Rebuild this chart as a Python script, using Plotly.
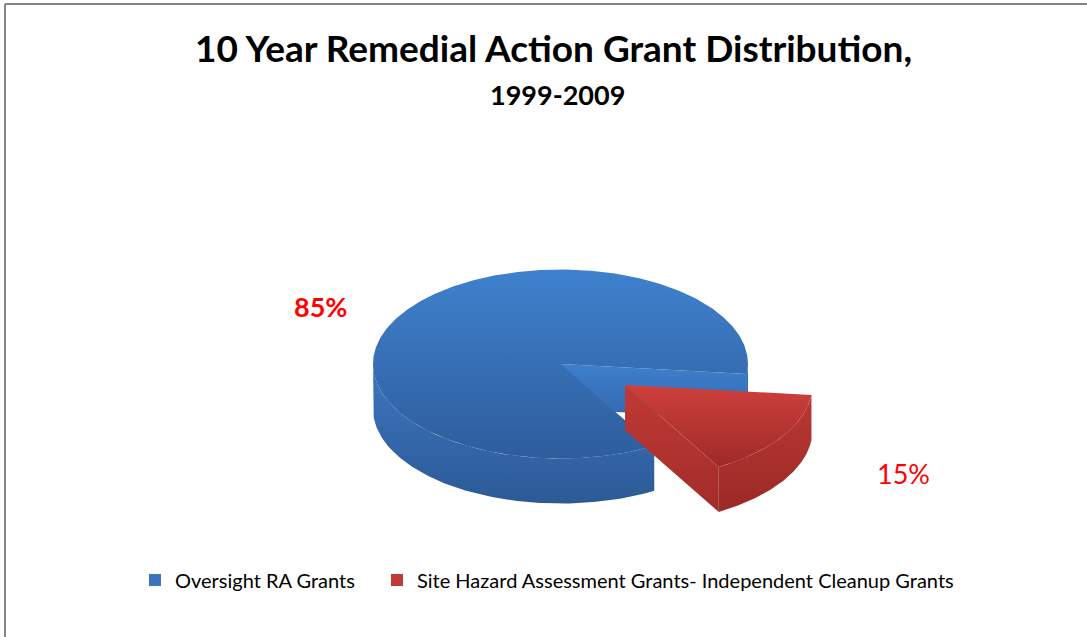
import numpy as np
import plotly.graph_objects as go

# ---- data ----
categories = ["Oversight RA Grants", "Site Hazard Assessment Grants- Independent Cleanup Grants"]
values = [85, 15]
pct_labels = [f"{v}%" for v in values]
title_text = "10 Year Remedial Action Grant Distribution,"
subtitle_text = "1999-2009"

# ---- style / geometry (pixel space) ----
W, H = 1087, 637
cx, cy = 560.5, 364.0      # centre of the top face
ra, rb = 187.5, 94.5       # ellipse semi-axes
depth = 45.0               # thickness of the pie
rotation = 150.0           # first slice angle (deg clockwise from 12 o'clock)
explode = [0.0, 0.41]
top_cols = [("#3F81CE", "#2E5D9C"), ("#CE403C", "#9E2A28")]
side_cols = [("#3B76C0", "#2D5A97"), ("#BC3834", "#9A2926")]
radial_cols = [("#3E7FCD", "#3469AE"), ("#C03A36", "#A22C29")]
legend_cols = ["#3A75BE", "#C03A36"]
label_pos = [(320, 306), (903, 473)]
label_bold = [True, False]
legend_x = [135, 377]
legend_y = 580

fig = go.Figure()


def pt(c, th, dz=0.0):
    t = np.radians(th)
    return c[0] + ra * np.sin(t), c[1] - rb * np.cos(t) + dz


def add_poly(xs, ys, cols):
    # with a reversed y axis, colorscale 0 sits at the bottom of the fill
    fig.add_trace(go.Scatter(
        x=xs, y=ys, mode="lines", fill="toself", line=dict(width=0),
        fillgradient=dict(type="vertical", colorscale=[[0, cols[1]], [1, cols[0]]]),
        hoverinfo="skip", showlegend=False))


total = float(sum(values))
start = rotation
for i, v in enumerate(values):
    span = 360.0 * v / total
    th1, th2 = start, start + span
    start = th2
    mid = np.radians((th1 + th2) / 2)
    c = (cx + explode[i] * ra * np.sin(mid), cy - explode[i] * rb * np.cos(mid))

    # radial faces
    for th, vis in ((th1, np.sin(np.radians(th1)) < 0), (th2, np.sin(np.radians(th2)) > 0)):
        if vis:
            px, py = pt(c, th)
            add_poly([c[0], px, px, c[0]], [c[1], py, py + depth, c[1] + depth], radial_cols[i])

    # outer curved side (front half only)
    for k in range(-1, 2):
        lo = max(th1, 90 + 360 * k)
        hi = min(th2, 270 + 360 * k)
        if hi > lo:
            ang = np.linspace(lo, hi, 120)
            xs = [pt(c, a)[0] for a in ang]
            ys = [pt(c, a)[1] for a in ang]
            add_poly(xs + xs[::-1], ys + [y + depth for y in ys[::-1]], side_cols[i])

    # top face
    ang = np.linspace(th1, th2, max(int(span * 2), 30))
    xs = [c[0]] + [pt(c, a)[0] for a in ang] + [c[0]]
    ys = [c[1]] + [pt(c, a)[1] for a in ang] + [c[1]]
    add_poly(xs, ys, top_cols[i])

# legend entries (one legend per entry so each can be placed)
legend_names = ["legend", "legend2"]
for i, name in enumerate(categories):
    fig.add_trace(go.Scatter(
        x=[None], y=[None], mode="markers", name=name, legend=legend_names[i],
        marker=dict(symbol="square", size=12, color=legend_cols[i]),
        showlegend=True))

# percent labels
for i, txt in enumerate(pct_labels):
    fig.add_annotation(
        x=label_pos[i][0], y=label_pos[i][1], text=f"<b>{txt}</b>" if label_bold[i] else txt,
        showarrow=False, font=dict(family="Lato", size=27, color="#FF0000"))

# titles
fig.add_annotation(x=553, y=47, text=f"<b>{title_text}</b>", showarrow=False,
                   font=dict(family="Lato", size=37, color="#000000"))
fig.add_annotation(x=557, y=94, text=f"<b>{subtitle_text}</b>", showarrow=False,
                   font=dict(family="Lato", size=27, color="#000000"))

# chart border (top and left edges visible)
fig.add_shape(type="line", x0=5, x1=W, y0=4, y1=4, line=dict(color="#858585", width=2))
fig.add_shape(type="line", x0=5, x1=5, y0=4, y1=H, line=dict(color="#858585", width=2))

leg_common = dict(orientation="h", xanchor="left", yanchor="middle",
                  font=dict(family="Lato", size=20, color="#000000"),
                  itemwidth=30, bgcolor="rgba(0,0,0,0)")
fig.update_layout(
    width=W, height=H, margin=dict(l=0, r=0, t=0, b=0),
    paper_bgcolor="white", plot_bgcolor="white",
    xaxis=dict(range=[0, W], visible=False, fixedrange=True),
    yaxis=dict(range=[H, 0], visible=False, fixedrange=True),
    legend=dict(x=legend_x[0] / W, y=1 - legend_y / H, **leg_common),
    legend2=dict(x=legend_x[1] / W, y=1 - legend_y / H, **leg_common),
)

fig.write_html("out.html", config={"displayModeBar": False},
               post_script="document.body.style.margin='0px';")
